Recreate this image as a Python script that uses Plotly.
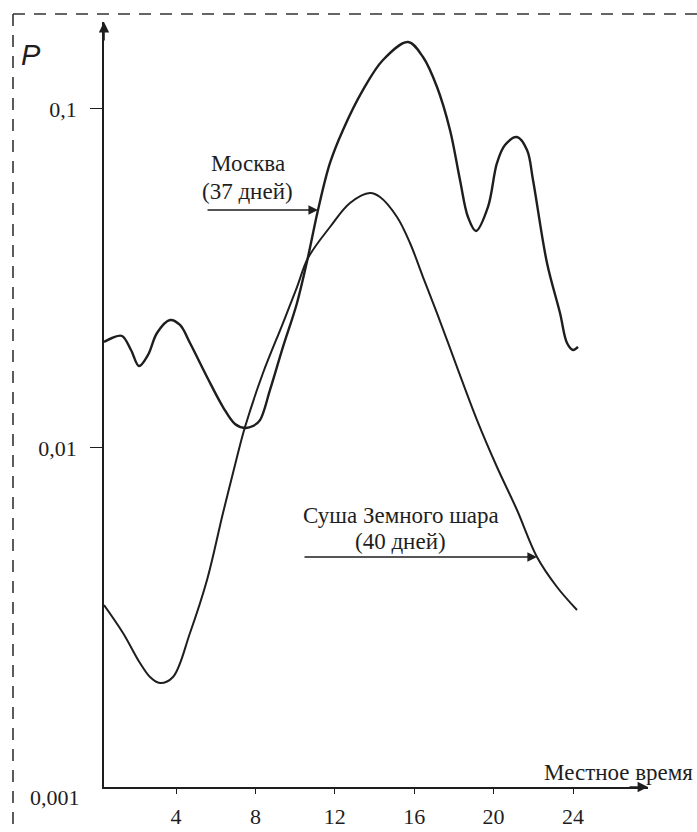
import math
import plotly.graph_objects as go

# ---- data ----
moscow_h = [0.373, 0.776, 1.280, 1.733, 2.136, 2.589, 3.043, 3.698, 4.201, 4.705,
            5.562, 6.368, 6.972, 7.476, 7.879, 8.232, 8.736, 9.390, 10.096, 10.650,
            11.154, 11.758, 12.413, 13.421, 14.428, 15.688, 16.443, 17.149, 17.803, 18.307,
            18.710, 19.113, 19.718, 20.171, 20.574, 21.179, 21.683, 21.985, 22.690, 23.345,
            23.698, 24.000, 24.252]
moscow_p = [0.02056, 0.02111, 0.02140, 0.01946, 0.01745, 0.01881, 0.02184, 0.02385, 0.02306, 0.02040,
            0.01620, 0.01321, 0.01177, 0.01146, 0.01161, 0.01209, 0.01483, 0.01986, 0.02678, 0.03659,
            0.05037, 0.06930, 0.08673, 0.1138, 0.1395, 0.1576, 0.1423, 0.1161, 0.08673, 0.06174,
            0.04800, 0.04365, 0.05140, 0.06930, 0.07829, 0.08265, 0.07568, 0.06174, 0.03513, 0.02501,
            0.02040, 0.01946, 0.01986]

land_h = [0.373, 1.330, 2.186, 2.690, 3.194, 3.849, 4.705, 5.562, 6.368, 7.073,
          7.476, 8.383, 9.390, 10.096, 10.650, 11.758, 12.766, 13.774, 14.277,
          15.134, 15.788, 16.443, 17.148, 18.156, 19.164, 20.171, 21.179, 22.186, 23.194,
          24.202]
land_p = [0.003442, 0.002847, 0.002321, 0.002111, 0.002026, 0.002111, 0.002847, 0.004078, 0.006429, 0.009408,
          0.01153, 0.01664, 0.02337, 0.02984, 0.03635, 0.04486, 0.05281, 0.05651, 0.05500,
          0.04800, 0.04025, 0.03194, 0.02501, 0.01733, 0.01209, 0.008790, 0.006563, 0.004770, 0.003890,
          0.003327]

x_ticks = [4, 8, 12, 16, 20, 24]
y_ticks = [0.1, 0.01]
y_tick_text = ["0,1", "0,01"]
y_bottom_text = "0,001"

moscow_label = ["Москва", "(37 дней)"]
land_label = ["Суша Земного шара", "(40 дней)"]
x_title = "Местное время"
y_title = "P"
moscow_arrow_idx = 20
land_arrow_idx = 27

INK = "#1e1e1e"
SERIF = "Liberation Serif, Times New Roman, serif"

fig = go.Figure()
fig.add_trace(go.Scatter(x=moscow_h, y=moscow_p, mode="lines",
                         line=dict(color=INK, width=2.4, shape="spline", smoothing=1.0),
                         hoverinfo="skip", showlegend=False))
fig.add_trace(go.Scatter(x=land_h, y=land_p, mode="lines",
                         line=dict(color=INK, width=2.0, shape="spline", smoothing=1.0),
                         hoverinfo="skip", showlegend=False))

W, H = 697, 832
L, R, T, B = 104, 49, 22, 45
pw, ph = W - L - R, H - T - B

def px(x):
    return (x - L) / pw

def py(y):
    return 1 - (y - T) / ph

annotations = []
# axis arrowheads
annotations.append(dict(xref="paper", yref="paper", x=0, y=1, ax=0, ay=20,
                        showarrow=True, arrowhead=2, arrowsize=1.3, arrowwidth=1.6,
                        arrowcolor=INK, text=""))
annotations.append(dict(xref="paper", yref="paper", x=1, y=0, ax=-20, ay=0,
                        showarrow=True, arrowhead=2, arrowsize=1.3, arrowwidth=1.6,
                        arrowcolor=INK, text=""))
# curve pointers
annotations.append(dict(x=moscow_h[moscow_arrow_idx], y=math.log10(moscow_p[moscow_arrow_idx]),
                        ax=-112, ay=0, showarrow=True, arrowhead=2, arrowsize=1.2,
                        arrowwidth=1.6, arrowcolor=INK, text=""))
annotations.append(dict(x=land_h[land_arrow_idx], y=math.log10(land_p[land_arrow_idx]),
                        ax=-234, ay=0, showarrow=True, arrowhead=2, arrowsize=1.2,
                        arrowwidth=1.6, arrowcolor=INK, text=""))

def txt(x, y, s, size=23, family=SERIF, xanchor="center"):
    annotations.append(dict(xref="paper", yref="paper", x=px(x), y=py(y), text=s,
                            showarrow=False, xanchor=xanchor, yanchor="middle",
                            font=dict(family=family, size=size, color=INK)))

txt(248, 163, moscow_label[0])
txt(247, 191, moscow_label[1])
txt(401, 515, land_label[0])
txt(400, 541, land_label[1])
txt(618, 772, x_title, size=23)
txt(31, 55, "<i>" + y_title + "</i>", size=29, family="Liberation Sans, Arial, sans-serif")
txt(82, 797, y_bottom_text, size=22, xanchor="right")

# dashed frame of the scanned figure (top and left edges are visible)
frame = dict(color="#333", width=1.6, dash="12px,9px")
shapes = [
    dict(type="line", xref="paper", yref="paper", x0=px(13), x1=px(697), y0=py(14), y1=py(14), line=frame),
    dict(type="line", xref="paper", yref="paper", x0=px(13), x1=px(13), y0=py(14), y1=py(840), line=frame),
]

fig.update_layout(
    width=W, height=H,
    margin=dict(l=L, r=R, t=T, b=B, autoexpand=False),
    paper_bgcolor="white", plot_bgcolor="white",
    annotations=annotations, shapes=shapes,
    xaxis=dict(range=[(L - 96.6) / 19.85, (W - R - 96.6) / 19.85],
               tickvals=x_ticks, ticktext=[str(v) for v in x_ticks],
               ticks="outside", ticklen=5, tickwidth=1.3, tickcolor=INK,
               showline=True, linecolor=INK, linewidth=1.6,
               showgrid=False, zeroline=False, automargin=False,
               ticklabelstandoff=4,
               tickfont=dict(family=SERIF, size=22, color=INK)),
    yaxis=dict(type="log", range=[-3, -0.7434],
               tickvals=y_ticks, ticktext=y_tick_text,
               ticks="outside", ticklen=12, tickwidth=1.3, tickcolor=INK,
               showline=True, linecolor=INK, linewidth=1.6,
               showgrid=False, zeroline=False, automargin=False,
               ticklabelstandoff=9,
               tickfont=dict(family=SERIF, size=22, color=INK)),
)

fig.write_html("out.html", config={"displayModeBar": False},
               post_script="document.body.style.margin='0';document.body.style.overflow='hidden';")
